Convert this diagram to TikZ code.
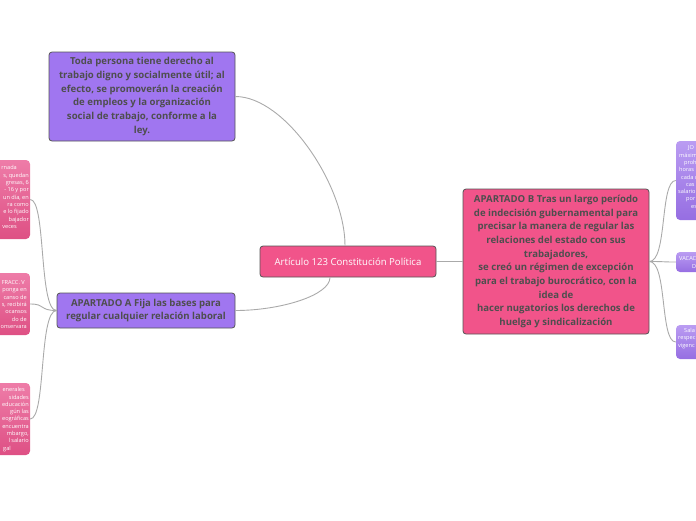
\documentclass[tikz,border=0pt]{standalone}
\usepackage{fontspec}
\setmainfont{Open Sans}
\usepackage{tikz}
\usetikzlibrary{positioning}
\definecolor{mmpurple}{RGB}{160,118,240}
\definecolor{mmpink}{RGB}{241,84,138}
\definecolor{mmborder}{RGB}{85,85,85}
\definecolor{mmtext}{RGB}{78,78,78}
\definecolor{mmlink}{RGB}{170,170,170}

\begin{document}
\begin{tikzpicture}[x=1pt,y=-1pt,
    box/.style={rectangle,rounded corners=3pt,draw=mmborder,line width=0.8pt},
    lbl/.style={font=\fontsize{9.6}{13.7}\selectfont\bfseries,text=mmtext,align=center},
    leafpink/.style={rectangle,rounded corners=4pt,top color={rgb,255:red,238;green,124;blue,168},bottom color={rgb,255:red,222;green,80;blue,132}},
    leafpurple/.style={rectangle,rounded corners=4pt,top color={rgb,255:red,186;green,156;blue,242},bottom color={rgb,255:red,150;green,110;blue,226}},
    leaftxt/.style={font=\fontsize{5.6}{7.3}\selectfont,text=white,inner sep=0pt},
    link/.style={draw=mmlink,line width=0.9pt}]
    \useasboundingbox (0,0) rectangle (696,520);

    % Nodo centrale
    \node[box,fill=mmpink,minimum width=176,minimum height=31] (art) at (348,261.5) {};
    \node[font=\fontsize{9.6}{12}\selectfont,text=white] at (art) {Artículo 123 Constitución Política};

    % Rami principali
    \node[box,fill=mmpurple,minimum width=186,minimum height=89] (derecho) at (142,96.5) {};
    \node[lbl] at (derecho) {Toda persona tiene derecho al\\
        trabajo digno y socialmente útil; al\\
        efecto, se promoverán la creación\\
        de empleos y la organización\\
        social de trabajo, conforme a la\\
        ley.};

    \node[box,fill=mmpurple,minimum width=178,minimum height=35] (aptA) at (146,310.5) {};
    \node[lbl] at (aptA) {APARTADO A Fija las bases para\\
        regular cualquier relación laboral};

    \node[box,fill=mmpink,minimum width=186,minimum height=145] (aptB) at (556,261.5) {};
    \node[lbl] at (aptB) {APARTADO B Tras un largo período\\
        de indecisión gubernamental para\\
        precisar la manera de regular las\\
        relaciones del estado con sus\\
        trabajadores,\\
        se creó un régimen de excepción\\
        para el trabajo burocrático, con la\\
        idea de\\
        hacer nugatorios los derechos de\\
        huelga y sindicalización};

    % Foglie a sinistra (tagliate dal bordo)
    \node[leafpink,minimum width=60,minimum height=79] (leafA1) at (0,199.5) {};
    \node[leaftxt,anchor=east,align=right] at (29,197) {
        rnada\hspace*{12pt}\\ s, quedan\\ gresas, 6\hspace*{3pt}\\ - 16 y por\hspace*{1pt}\\
        un día, en\hspace*{2pt}\\ ra como\hspace*{6pt}\\ e lo fijado\hspace*{2pt}\\
        bajador\hspace*{5pt}\\ veces\hspace*{12pt}};

    \node[leafpink,minimum width=60,minimum height=62] (leafA2) at (0,304) {};
    \node[leaftxt,anchor=east,align=right] at (27,304.5) {
        FRACC. V\hspace*{2pt}\\ ponga en\hspace*{3pt}\\ canso de\hspace*{4pt}\\
        s, recibirá\hspace*{1pt}\\ ocansos\hspace*{3pt}\\ do de\hspace*{9pt}\\ onservara};

    \node[leafpink,minimum width=60,minimum height=72] (leafA3) at (0,419) {};
    \node[leaftxt,anchor=east,align=right] at (29,419.5) {
        enerales\hspace*{4pt}\\ sidades\hspace*{6pt}\\ educación\hspace*{1pt}\\
        gún las\hspace*{3pt}\\ eográficas\\ encuentra\hspace*{1pt}\\ mbargo,\hspace*{1pt}\\
        l salario\hspace*{3pt}\\ gal\hspace*{18pt}};

    % Foglie a destra (tagliate dal bordo)
    \node[leafpurple,minimum width=60,minimum height=79] (leafB1) at (706,180.5) {};
    \node[leaftxt,anchor=west,align=left] at (678,177) {
        \hspace*{10pt}JO\\ \hspace*{1pt}máxim\\ \hspace*{6pt}prohi\\ \hspace*{1pt}horas\\
        \hspace*{3pt}cada d\\ \hspace*{8pt}cas\\ salario\\ \hspace*{8pt}por\\ \hspace*{13pt}es};

    \node[leafpurple,minimum width=60,minimum height=20] (leafB2) at (706,262) {};
    \node[leaftxt,anchor=west,align=left] at (679,262.5) {VACAC\\ \hspace*{13pt}D};

    \node[leafpurple,minimum width=60,minimum height=34] (leafB3) at (706,342) {};
    \node[leaftxt,anchor=west,align=left] at (678,338.5) {\hspace*{6pt}Sala\\ respec\\ vigenc};

    % Connessioni
    \draw[link] (derecho.east) .. controls +(50,0) and +(0,-60) .. ([xshift=-3pt]art.north);
    \draw[link] (aptA.east) .. controls +(45,0) and +(0,18) .. ([xshift=-18pt]art.south);
    \draw[link] (art.east) -- (aptB.west);
    \foreach \leaf in {leafA1,leafA2,leafA3}
        \draw[link] (aptA.west) .. controls +(-18,0) and +(16,0) .. (\leaf.east);
    \foreach \leaf in {leafB1,leafB2,leafB3}
        \draw[link] (aptB.east) .. controls +(18,0) and +(-16,0) .. (\leaf.west);
\end{tikzpicture}
\end{document}
